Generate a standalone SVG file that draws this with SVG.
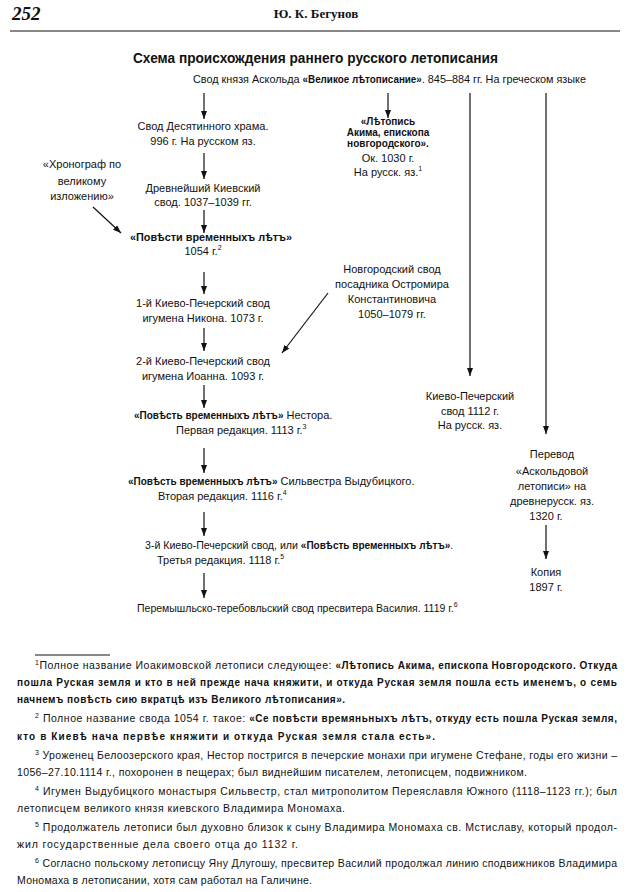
<svg xmlns="http://www.w3.org/2000/svg" width="632" height="892" viewBox="0 0 632 892">
<defs>
<marker id="ah" markerUnits="userSpaceOnUse" markerWidth="8" markerHeight="6" refX="8" refY="3" orient="auto">
<path d="M0,0 L8,3 L0,6 z" fill="#111"/>
</marker>
<style>
text{font-family:"Liberation Sans",Arial,sans-serif;fill:#111;font-size:11px}
.c{text-anchor:middle}
.b{font-weight:bold}
.o{font-weight:bold;font-size:10px}
.s{font-size:7px}
.fn{font-size:10.5px}
.fo{font-weight:bold;font-size:10px}
.con line{stroke:#111;stroke-width:1.2;fill:none}
.con .a{marker-end:url(#ah)}
</style>
</defs>
<rect width="632" height="892" fill="#fff"/>

<g id="header">
<text x="12" y="20" style="font-family:'Liberation Serif',serif;font-weight:bold;font-style:italic;font-size:19px">252</text>
<text x="316" y="18" class="c" style="font-family:'Liberation Serif',serif;font-weight:bold;font-size:13px">Ю. К. Бегунов</text>
<line x1="10" y1="31" x2="620" y2="31" stroke="#111" stroke-width="1.2"/>
</g>

<g id="title">
<text x="133" y="63" textLength="365" lengthAdjust="spacingAndGlyphs" style="font-weight:bold;font-size:15.5px">Схема происхождения раннего русского летописания</text>
</g>

<g id="n-askold">
<text x="193" y="83" textLength="393" lengthAdjust="spacingAndGlyphs">Свод князя Аскольда <tspan class="o">«Великое лѣтописание»</tspan>. 845–884 гг. На греческом языке</text>
</g>

<g id="n-desyat">
<text x="203" y="130" class="c">Свод Десятинного храма.</text>
<text x="203" y="145" class="c">996 г. На русском яз.</text>
</g>

<g id="n-akim">
<text x="388" y="125" class="c o">«Лѣтопись</text>
<text x="388" y="136" class="c o">Акима, епископа</text>
<text x="388" y="147" class="c o">новгородского».</text>
<text x="388" y="162" class="c">Ок. 1030 г.</text>
<text x="388" y="176" class="c">На русск. яз.<tspan class="s" dy="-5">1</tspan></text>
</g>

<g id="n-chronograph">
<text x="82" y="168" class="c">«Хронограф по</text>
<text x="82" y="185" class="c">великому</text>
<text x="82" y="200" class="c">изложению»</text>
</g>

<g id="n-drevn">
<text x="203" y="192" class="c">Древнейший Киевский</text>
<text x="203" y="206" class="c">свод. 1037–1039 гг.</text>
</g>

<g id="n-pvl1054">
<text x="130" y="241" textLength="162" lengthAdjust="spacingAndGlyphs" class="o">«Повѣсти временныхъ лѣтъ»</text>
<text x="203" y="255" class="c">1054 г.<tspan class="s" dy="-5">2</tspan></text>
</g>

<g id="n-novgorod">
<text x="392" y="273" class="c">Новгородский свод</text>
<text x="392" y="288" class="c">посадника Остромира</text>
<text x="392" y="303" class="c">Константиновича</text>
<text x="392" y="318" class="c">1050–1079 гг.</text>
</g>

<g id="n-kp1">
<text x="203" y="307" class="c">1-й Киево-Печерский свод</text>
<text x="203" y="322" class="c">игумена Никона. 1073 г.</text>
</g>

<g id="n-kp2">
<text x="203" y="365" class="c">2-й Киево-Печерский свод</text>
<text x="203" y="380" class="c">игумена Иоанна. 1093 г.</text>
</g>

<g id="n-kp1112">
<text x="470" y="400" class="c">Киево-Печерский</text>
<text x="470" y="415" class="c">свод 1112 г.</text>
<text x="470" y="429" class="c">На русск. яз.</text>
</g>

<g id="n-nestor">
<text x="134" y="419"><tspan class="o">«Повѣсть временныхъ лѣтъ»</tspan> Нестора.</text>
<text x="176" y="434">Первая редакция. 1113 г.<tspan class="s" dy="-5">3</tspan></text>
</g>

<g id="n-perevod">
<text x="552" y="458" class="c">Перевод</text>
<text x="552" y="475" class="c">«Аскольдовой</text>
<text x="552" y="490" class="c">летописи» на</text>
<text x="552" y="505" class="c">древнерусск. яз.</text>
<text x="546" y="520" class="c">1320 г.</text>
</g>

<g id="n-silvestr">
<text x="128" y="485"><tspan class="o">«Повѣсть временныхъ лѣтъ»</tspan> Сильвестра Выдубицкого.</text>
<text x="158" y="500">Вторая редакция. 1116 г.<tspan class="s" dy="-5">4</tspan></text>
</g>

<g id="n-kp3">
<text x="145" y="549" style="font-size:10.6px">3-й Киево-Печерский свод, или <tspan class="o">«Повѣсть временныхъ лѣтъ»</tspan>.</text>
<text x="157" y="564">Третья редакция. 1118 г.<tspan class="s" dy="-5">5</tspan></text>
</g>

<g id="n-kopiya">
<text x="546" y="576" class="c">Копия</text>
<text x="546" y="591" class="c">1897 г.</text>
</g>

<g id="n-peremyshl">
<text x="137" y="612" style="font-size:10.5px">Перемышльско-теребовльский свод пресвитера Василия. 1119 г.<tspan class="s" dy="-5">6</tspan></text>
</g>

<g id="connectors" class="con">
<line class="a" x1="204" y1="93" x2="204" y2="119"/>
<line class="a" x1="388" y1="93" x2="388" y2="118"/>
<line class="a" x1="470" y1="93" x2="470" y2="376"/>
<line class="a" x1="546" y1="93" x2="546" y2="434"/>
<line class="a" x1="204" y1="153" x2="204" y2="179"/>
<line class="a" x1="204" y1="210" x2="204" y2="233"/>
<line class="a" x1="93" y1="207" x2="121" y2="233"/>
<line class="a" x1="204" y1="272" x2="204" y2="294"/>
<line class="a" x1="328" y1="293" x2="282" y2="353"/>
<line class="a" x1="204" y1="328" x2="204" y2="351"/>
<line class="a" x1="204" y1="385" x2="204" y2="408"/>
<line class="a" x1="204" y1="448" x2="204" y2="473"/>
<line class="a" x1="204" y1="512" x2="204" y2="536"/>
<line class="a" x1="204" y1="573" x2="204" y2="598"/>
<line class="a" x1="546" y1="525" x2="546" y2="559"/>
</g>

<g id="footnotes">
<line x1="35" y1="655" x2="110" y2="655" stroke="#111" stroke-width="1"/>
<text class="fn" x="35" y="669" textLength="582" lengthAdjust="spacing"><tspan class="s" dy="-4">1</tspan><tspan dy="4">Полное название Иоакимовской летописи следующее: </tspan><tspan class="fo">«Лѣтопись Акима, епископа Новгородского. Откуда</tspan></text>
<text class="fo" x="17" y="686" textLength="600" lengthAdjust="spacing">пошла Руская земля и кто в ней прежде нача княжити, и откуда Руская земля пошла есть именемъ, о семь</text>
<text class="fo" x="17" y="703" textLength="328" lengthAdjust="spacing">начнемъ повѣсть сию вкратцѣ изъ Великого лѣтописания».</text>
<text class="fn" x="35" y="722" textLength="582" lengthAdjust="spacing"><tspan class="s" dy="-4">2</tspan><tspan dy="4"> Полное название свода 1054 г. такое: </tspan><tspan class="fo">«Се повѣсти времяньныхъ лѣтъ, откуду есть пошла Руская земля,</tspan></text>
<text class="fo" x="17" y="740" textLength="418" lengthAdjust="spacing">кто в Киевѣ нача первѣе княжити и откуда Руская земля стала есть».</text>
<text class="fn" x="35" y="759" textLength="582" lengthAdjust="spacing"><tspan class="s" dy="-4">3</tspan><tspan dy="4"> Уроженец Белоозерского края, Нестор постригся в печерские монахи при игумене Стефане, годы его жизни –</tspan></text>
<text class="fn" x="17" y="776" textLength="510" lengthAdjust="spacing">1056–27.10.1114 г., похоронен в пещерах; был виднейшим писателем, летописцем, подвижником.</text>
<text class="fn" x="35" y="795" textLength="582" lengthAdjust="spacing"><tspan class="s" dy="-4">4</tspan><tspan dy="4"> Игумен Выдубицкого монастыря Сильвестр, стал митрополитом Переяславля Южного (1118–1123 гг.); был</tspan></text>
<text class="fn" x="17" y="812" textLength="328" lengthAdjust="spacing">летописцем великого князя киевского Владимира Мономаха.</text>
<text class="fn" x="35" y="831" textLength="582" lengthAdjust="spacing"><tspan class="s" dy="-4">5</tspan><tspan dy="4"> Продолжатель летописи был духовно близок к сыну Владимира Мономаха св. Мстиславу, который продол-</tspan></text>
<text class="fn" x="17" y="848" textLength="281" lengthAdjust="spacing">жил государственные дела своего отца до 1132 г.</text>
<text class="fn" x="35" y="867" textLength="582" lengthAdjust="spacing"><tspan class="s" dy="-4">6</tspan><tspan dy="4"> Согласно польскому летописцу Яну Длугошу, пресвитер Василий продолжал линию сподвижников Владимира</tspan></text>
<text class="fn" x="17" y="884" textLength="295" lengthAdjust="spacing">Мономаха в летописании, хотя сам работал на Галичине.</text>
</g>
</svg>
